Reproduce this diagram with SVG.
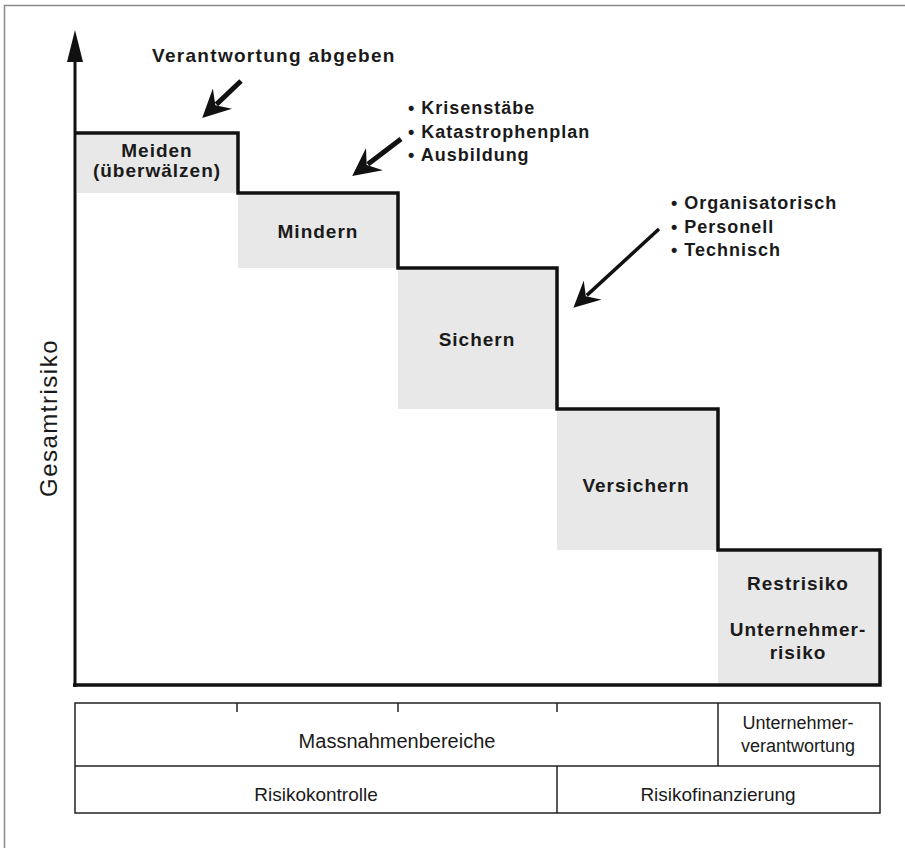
<svg xmlns="http://www.w3.org/2000/svg" width="905" height="848" viewBox="0 0 905 848">
<style>
.bold{font-family:"Liberation Sans",Arial,Helvetica,sans-serif;font-weight:bold;fill:#1a1a1a}
.lbl{font-size:19px;letter-spacing:1px;text-anchor:middle}
.bul{font-size:18px;letter-spacing:1px}
.tbl{font-family:"Liberation Sans",Arial,Helvetica,sans-serif;fill:#1a1a1a;text-anchor:middle}
.shade{fill:#e8e8e8}
.step{fill:none;stroke:#111;stroke-width:3.5;stroke-linejoin:miter}
.cell{fill:none;stroke:#222;stroke-width:1.5}
.arr{stroke:#111;stroke-linecap:butt}
</style>
<defs>
<marker id="head" viewBox="0 0 10 10" refX="3" refY="5" markerWidth="28" markerHeight="28" markerUnits="userSpaceOnUse" orient="auto">
<path d="M0,0 L10,5 L0,10 L3.5,5 z" fill="#111"/>
</marker>
<marker id="head2" viewBox="0 0 10 10" refX="3" refY="5" markerWidth="26" markerHeight="26" markerUnits="userSpaceOnUse" orient="auto">
<path d="M0,0 L10,5 L0,10 L3.5,5 z" fill="#111"/>
</marker>
</defs>
<rect width="905" height="848" fill="#fff"/>
<path d="M4.5,848 L4.5,5.5 L905,5.5" fill="none" stroke="#8a8a8a" stroke-width="1.5"/>

<g id="shading">
<rect class="shade" x="77" y="135" width="161" height="58"/>
<rect class="shade" x="238" y="195" width="160" height="73"/>
<rect class="shade" x="398" y="270" width="159" height="139"/>
<rect class="shade" x="557" y="411" width="161" height="139"/>
<rect class="shade" x="718" y="552" width="162" height="133"/>
</g>

<g id="axis">
<line x1="75" y1="55" x2="75" y2="687" stroke="#111" stroke-width="3"/>
<path d="M75,30 L83,62 L67,62 z" fill="#111"/>
<text x="0" y="0" transform="translate(57,418) rotate(-90)" style="font-family:'Liberation Sans',Arial,sans-serif;fill:#1a1a1a;font-size:24px;letter-spacing:1.5px;text-anchor:middle">Gesamtrisiko</text>
</g>

<g id="steps">
<path class="step" d="M75,133 L238,133 L238,193 L398,193 L398,268 L557,268 L557,409 L718,409 L718,550 L880,550 L880,685 L73,685"/>
</g>

<g id="meiden"><text class="bold lbl" x="157" y="157">Meiden</text><text class="bold lbl" x="157" y="177">(überwälzen)</text></g>
<g id="mindern"><text class="bold lbl" x="318" y="238">Mindern</text></g>
<g id="sichern"><text class="bold lbl" x="477" y="346">Sichern</text></g>
<g id="versichern"><text class="bold lbl" x="636" y="492">Versichern</text></g>
<g id="restrisiko"><text class="bold lbl" x="798" y="590">Restrisiko</text><text class="bold lbl" x="798" y="636">Unternehmer-</text><text class="bold lbl" x="798" y="659">risiko</text></g>

<g id="note-verantwortung"><text class="bold" x="152" y="62" style="font-size:19px;letter-spacing:1.3px">Verantwortung abgeben</text></g>
<g id="note-krisen">
<text class="bold bul" x="408" y="114">• Krisenstäbe</text>
<text class="bold bul" x="408" y="137.5">• Katastrophenplan</text>
<text class="bold bul" x="408" y="161">• Ausbildung</text>
</g>
<g id="note-org">
<text class="bold bul" x="671" y="209">• Organisatorisch</text>
<text class="bold bul" x="671" y="232.5">• Personell</text>
<text class="bold bul" x="671" y="256">• Technisch</text>
</g>

<g id="connectors">
<line class="arr" x1="241" y1="81" x2="216.4" y2="104.4" stroke-width="5" marker-end="url(#head)"/>
<line class="arr" x1="401" y1="139" x2="367.8" y2="164.2" stroke-width="5" marker-end="url(#head)"/>
<line class="arr" x1="659" y1="229" x2="586.8" y2="295.4" stroke-width="3.5" marker-end="url(#head2)"/>
</g>

<g id="table">
<rect class="cell" x="75" y="703" width="805" height="110"/>
<line class="cell" x1="75" y1="766" x2="880" y2="766"/>
<line class="cell" x1="718" y1="703" x2="718" y2="766"/>
<line class="cell" x1="557" y1="766" x2="557" y2="813"/>
<line class="cell" x1="237" y1="703" x2="237" y2="712"/>
<line class="cell" x1="398" y1="703" x2="398" y2="712"/>
<line class="cell" x1="557" y1="703" x2="557" y2="712"/>
</g>
<g id="massnahmen"><text class="tbl" x="397" y="748" font-size="20">Massnahmenbereiche</text></g>
<g id="unternehmerverantwortung"><text class="tbl" x="798" y="729" font-size="18">Unternehmer-</text><text class="tbl" x="798" y="752" font-size="18">verantwortung</text></g>
<g id="risikokontrolle"><text class="tbl" x="316" y="801" font-size="19">Risikokontrolle</text></g>
<g id="risikofinanzierung"><text class="tbl" x="718" y="801" font-size="19">Risikofinanzierung</text></g>
</svg>
